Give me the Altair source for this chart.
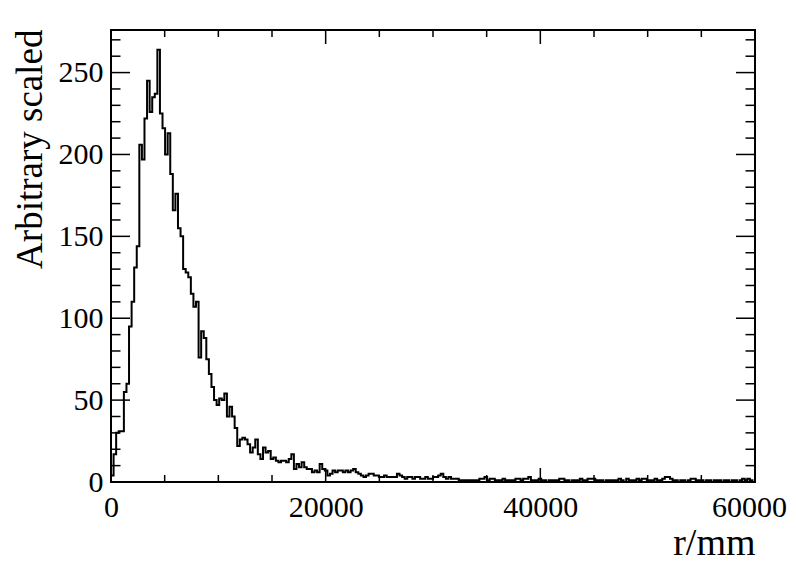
import altair as alt
import pandas as pd

# ---------------- data ----------------
bin_width = 240  # mm, 250 bins from 0 to 60000
counts = (
    [4, 17, 30, 31, 31, 55, 60, 95, 110, 131, 144, 206, 197, 222, 245, 226, 235, 237, 264, 225,
     216, 200, 213, 188, 166, 176, 155, 150, 130, 128, 125, 115, 107, 110, 76, 92, 88, 75, 66, 58]
    + [50, 47, 51, 50, 54, 40, 46, 40, 33, 22, 26, 27, 26, 23, 18, 21, 26, 17, 14, 21,
       18, 19, 14, 15, 13, 12, 13, 13, 12, 14, 17, 8, 11, 9, 12, 9, 8, 8, 6, 7,
       6, 11, 8, 7, 4, 5]
    + [7, 6, 7, 7, 6, 7, 6, 7, 8, 6, 5, 4, 3, 4, 5, 5, 4, 4, 3, 3,
       4, 3, 3, 3, 3, 5, 4, 3, 2, 3, 3, 2, 3, 3, 2, 2, 3, 2, 2, 3]
    + [3, 4, 5, 3, 2, 3, 2, 2, 2, 1, 1, 1, 1, 1, 1, 1, 1, 2, 2, 3,
       1, 2, 2, 1, 1, 1, 2, 1, 1, 1, 1, 2, 2, 1, 2, 2, 3, 1, 1, 1, 2]
    + [1, 1, 0, 1, 1, 1, 1, 2, 2,
       1, 1, 0, 1, 1, 1, 2, 1, 1, 2,
       2, 2, 1, 1, 1, 0, 1, 1, 1, 1,
       1, 2, 1, 0, 2, 1, 1, 1, 2, 1,
       2, 2, 1, 1, 1, 2, 1, 1, 2, 3,
       3, 2, 1, 1, 0, 1, 1, 0, 1, 2,
       2, 1, 1, 1, 0, 1, 1, 0, 1, 1,
       1, 0, 1, 1, 0, 1, 1, 0, 1, 2,
       1, 2, 1, 0]
)

y_major = [0, 50, 100, 150, 200, 250]
y_minor = [10, 20, 30, 40, 60, 70, 80, 90, 110, 120, 130, 140, 160, 170, 180, 190,
           210, 220, 230, 240, 260, 270]
x_major = [0, 20000, 40000, 60000]
x_minor = [5000, 10000, 15000, 25000, 30000, 35000, 45000, 50000, 55000]

x_title = "r/mm"
y_title = "Arbitrary scaled"

# ---------------- chart ----------------
W, H = 644, 452
FONT = "Liberation Serif"

edges = [i * bin_width for i in range(len(counts))] + [len(counts) * bin_width]
vals = counts + [counts[-1]]
hist_df = pd.DataFrame({"r": edges, "n": vals})

xscale = alt.Scale(domain=[0, 60000], nice=False, zero=False)
yscale = alt.Scale(domain=[0, 276], nice=False, zero=False)

xaxis = alt.Axis(
    values=x_major, format="d", ticks=False, domain=False, grid=False,
    labelPadding=10, labelFont=FONT, labelFontSize=30, labelColor="black",
    labelFlush=False, labelOverlap=False, labelBound=False,
    labelOffset={"condition": {"test": "datum.value >= 60000", "value": -6}, "value": 0},
    title=x_title, titleFont=FONT, titleFontSize=38, titleFontWeight="normal",
    titleColor="black", titleAnchor="end", titleAlign="right",
    titleX=W, titleY=72, titleBaseline="alphabetic")
yaxis = alt.Axis(
    values=y_major, format="d", ticks=False, domain=False, grid=False,
    labelPadding=8, labelFont=FONT, labelFontSize=30, labelColor="black",
    labelFlush=False, labelOverlap=False, labelBound=False,
    title=y_title, titleFont=FONT, titleFontSize=37, titleFontWeight="normal",
    titleColor="black", titleAngle=270, titleAlign="right",
    titleBaseline="alphabetic", titleX=-70, titleY=-1)

hist = alt.Chart(hist_df).mark_line(
    interpolate="step-after", color="black", strokeWidth=2
).encode(
    x=alt.X("r:Q", scale=xscale, axis=xaxis),
    y=alt.Y("n:Q", scale=yscale, axis=yaxis),
)

ymaj_df = pd.DataFrame({"n": y_major})
ymin_df = pd.DataFrame({"n": y_minor})
xmaj_df = pd.DataFrame({"r": x_major})
xmin_df = pd.DataFrame({"r": x_minor})


def yticks(df, length, right=False):
    x0 = W - length if right else 0
    x1 = W if right else length
    return alt.Chart(df).mark_rule(color="black", strokeWidth=1.5).encode(
        y=alt.Y("n:Q", scale=yscale, axis=yaxis),
        x=alt.value(x0), x2=alt.value(x1))


def xticks(df, length, top=False):
    y0 = 0 if top else H
    y1 = length if top else H - length
    return alt.Chart(df).mark_rule(color="black", strokeWidth=1.5).encode(
        x=alt.X("r:Q", scale=xscale, axis=xaxis),
        y=alt.value(y0), y2=alt.value(y1))


chart = alt.layer(
    hist,
    yticks(ymaj_df, 19), yticks(ymin_df, 9.5),
    yticks(ymaj_df, 19, right=True), yticks(ymin_df, 9.5, right=True),
    xticks(xmaj_df, 14), xticks(xmin_df, 7),
    xticks(xmaj_df, 14, top=True), xticks(xmin_df, 7, top=True),
).properties(
    width=W, height=H,
    autosize=alt.AutoSizeParams(type="none"),
    padding={"left": 103, "top": 22, "right": 33, "bottom": 82},
    background="white",
).configure_view(stroke="black", strokeWidth=2)

chart.save("out.html", embed_options={"renderer": "svg", "actions": False})
